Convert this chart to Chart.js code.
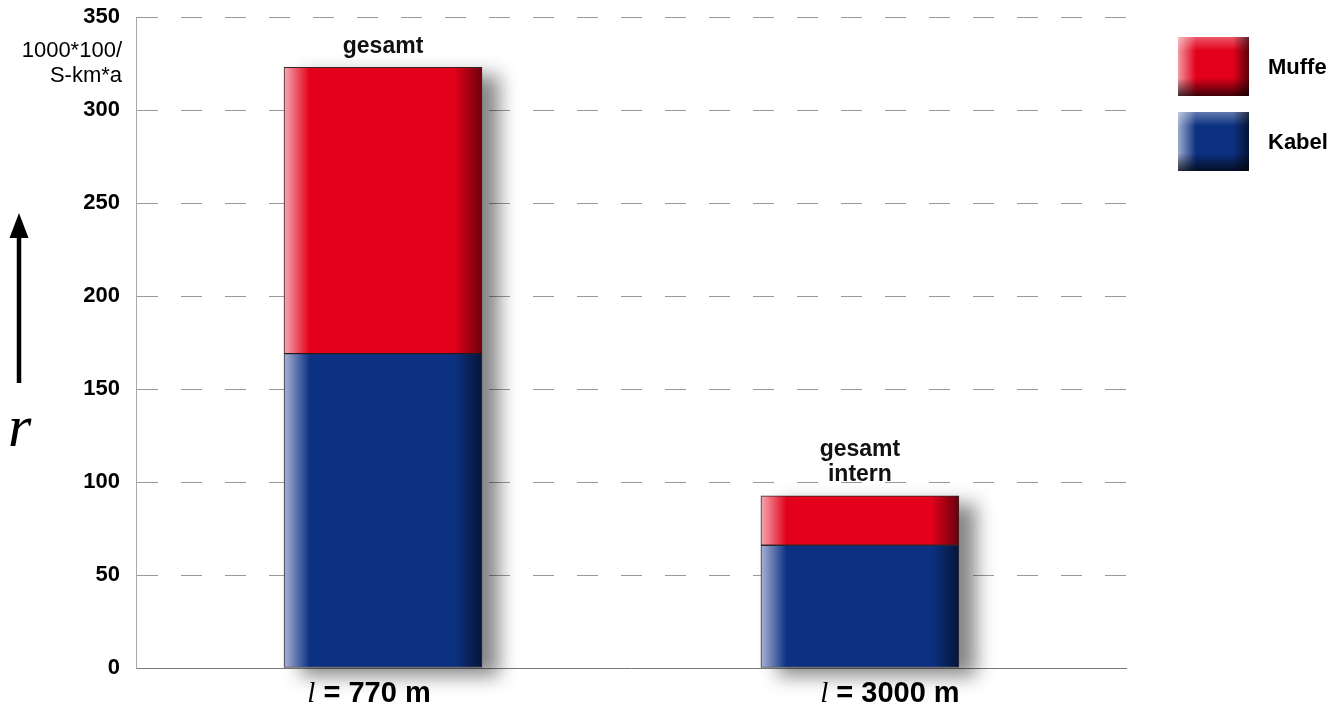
<!DOCTYPE html>
<html lang="de">
<head>
  <meta charset="UTF-8" />
  <title>Ausfallrate Kabel / Muffe</title>
  <script src="https://cdn.jsdelivr.net/npm/chart.js"></script>
  <style>
    body { margin: 0; background: #fff; }
    #wrap { width: 1337px; height: 707px; }
  </style>
</head>
<body>
  <div id="wrap"><canvas id="chart" width="1337" height="707"></canvas></div>
  <script>
    // values
    const categories = ['770 m', '3000 m'];
    const slots = [0, 1];
    const kabel = [169, 66];
    const muffe = [154, 26.5];
    const topNotes = [['gesamt'], ['gesamt', 'intern']];
    const yMax = 350;
    const yStep = 50;
    const xLabelShift = [-14, 30];

    const SANS = '"Liberation Sans", Arial, sans-serif';
    const SERIF = '"Liberation Serif", "Times New Roman", serif';

    const palette = {
      Kabel: { light: '#a9b4d4', base: '#0c3182', dark: '#041538' },
      Muffe: { light: '#f6a9b1', base: '#e2001a', dark: '#6a000c' }
    };

    function barFill(c, name) {
      const p = palette[name];
      const chart = c.chart;
      if (!chart.chartArea || !chart.scales.x || !c.raw) return p.base;
      const cx = chart.scales.x.getPixelForValue(c.raw.x);
      const g = chart.ctx.createLinearGradient(cx - 99, 0, cx + 99, 0);
      g.addColorStop(0, p.light);
      g.addColorStop(0.13, p.base);
      g.addColorStop(0.86, p.base);
      g.addColorStop(1, p.dark);
      return g;
    }

    // drop shadow behind every full stack
    const stackShadow = {
      id: 'stackShadow',
      beforeDatasetsDraw(chart) {
        const ctx = chart.ctx;
        const bot = chart.getDatasetMeta(0).data;
        const top = chart.getDatasetMeta(1).data;
        top.forEach((t, i) => {
          ctx.save();
          ctx.shadowColor = 'rgba(0,0,0,0.48)';
          ctx.shadowBlur = 18;
          ctx.shadowOffsetX = 17;
          ctx.shadowOffsetY = 8;
          ctx.fillStyle = '#fff';
          ctx.fillRect(t.x - t.width / 2, t.y, t.width, bot[i].base - t.y);
          ctx.restore();
        });
      }
    };

    // "gesamt" notes above the stacks
    const notes = {
      id: 'notes',
      afterDatasetsDraw(chart) {
        const ctx = chart.ctx;
        const top = chart.getDatasetMeta(1).data;
        ctx.save();
        ctx.font = 'bold 23px ' + SANS;
        ctx.fillStyle = '#111';
        ctx.textAlign = 'center';
        ctx.textBaseline = 'middle';
        top.forEach((t, i) => {
          const lines = topNotes[i];
          lines.forEach((s, k) => {
            ctx.fillText(s, t.x, t.y - 21 - (lines.length - 1 - k) * 25);
          });
        });
        ctx.restore();
      }
    };

    function bevelBox(ctx, x, y, w, h, p) {
      ctx.fillStyle = p.base;
      ctx.fillRect(x, y, w, h);
      let g = ctx.createLinearGradient(x, 0, x + 18, 0);
      g.addColorStop(0, 'rgba(255,255,255,0.6)');
      g.addColorStop(1, 'rgba(255,255,255,0)');
      ctx.fillStyle = g; ctx.fillRect(x, y, 18, h);
      g = ctx.createLinearGradient(0, y, 0, y + 14);
      g.addColorStop(0, 'rgba(255,255,255,0.35)');
      g.addColorStop(1, 'rgba(255,255,255,0)');
      ctx.fillStyle = g; ctx.fillRect(x, y, w, 14);
      g = ctx.createLinearGradient(x + w - 16, 0, x + w, 0);
      g.addColorStop(0, 'rgba(0,0,0,0)');
      g.addColorStop(1, 'rgba(0,0,0,0.6)');
      ctx.fillStyle = g; ctx.fillRect(x + w - 16, y, 16, h);
      g = ctx.createLinearGradient(0, y + h - 18, 0, y + h);
      g.addColorStop(0, 'rgba(0,0,0,0)');
      g.addColorStop(1, 'rgba(0,0,0,0.72)');
      ctx.fillStyle = g; ctx.fillRect(x, y + h - 18, w, 18);
    }

    // axis captions, arrow, x labels and legend
    const extras = {
      id: 'extras',
      afterDraw(chart) {
        const ctx = chart.ctx;
        const xs = chart.scales.x;
        const area = chart.chartArea;
        ctx.save();
        ctx.fillStyle = '#000';

        // y unit
        ctx.font = '22px ' + SANS;
        ctx.textAlign = 'right';
        ctx.textBaseline = 'middle';
        ctx.fillText('1000*100/', 122, 51);
        ctx.fillText('S-km*a', 122, 76);

        // arrow and r
        ctx.strokeStyle = '#000';
        ctx.lineWidth = 4.5;
        ctx.beginPath();
        ctx.moveTo(19, 383);
        ctx.lineTo(19, 234);
        ctx.stroke();
        ctx.beginPath();
        ctx.moveTo(19, 213);
        ctx.lineTo(28.5, 238);
        ctx.lineTo(9.5, 238);
        ctx.closePath();
        ctx.fill();
        ctx.font = 'italic 60px ' + SERIF;
        ctx.textAlign = 'left';
        ctx.textBaseline = 'alphabetic';
        ctx.fillText('r', 8, 446);

        // x labels: italic l + bold text
        categories.forEach((c, i) => {
          const cx = xs.getPixelForValue(slots[i]) + xLabelShift[i];
          const rest = ' = ' + c;
          ctx.font = 'italic 29px ' + SERIF;
          const w1 = ctx.measureText('l').width;
          ctx.font = 'bold 29px ' + SANS;
          const w2 = ctx.measureText(rest).width;
          const x = cx - (w1 + w2) / 2;
          ctx.font = 'italic 29px ' + SERIF;
          ctx.fillText('l', x, area.bottom + 34);
          ctx.font = 'bold 29px ' + SANS;
          ctx.fillText(rest, x + w1, area.bottom + 34);
        });

        // legend
        const items = [['Muffe', 37], ['Kabel', 112]];
        items.forEach(([name, y]) => {
          bevelBox(ctx, 1178, y, 71, 59, palette[name]);
          ctx.fillStyle = '#000';
          ctx.font = 'bold 22px ' + SANS;
          ctx.textBaseline = 'middle';
          ctx.textAlign = 'left';
          ctx.fillText(name, 1268, y + 31);
        });
        ctx.restore();
      }
    };

    new Chart(document.getElementById('chart'), {
      type: 'bar',
      data: {
        datasets: [
          {
            label: 'Kabel',
            data: slots.map((s, i) => ({ x: s, y: kabel[i] })),
            backgroundColor: c => barFill(c, 'Kabel'),
            borderColor: 'rgba(10,10,20,0.85)',
            borderWidth: 1,
            borderSkipped: false,
            barThickness: 198
          },
          {
            label: 'Muffe',
            data: slots.map((s, i) => ({ x: s, y: muffe[i] })),
            backgroundColor: c => barFill(c, 'Muffe'),
            borderColor: 'rgba(20,0,0,0.85)',
            borderWidth: 1,
            borderSkipped: false,
            barThickness: 198
          }
        ]
      },
      options: {
        responsive: false,
        animation: false,
        devicePixelRatio: 1,
        layout: { padding: { top: 17, right: 211, left: 0, bottom: 0 } },
        plugins: { legend: { display: false }, tooltip: { enabled: false } },
        scales: {
          x: {
            type: 'linear',
            stacked: true,
            offset: false,
            min: -0.518,
            max: 1.558,
            grid: { display: false },
            border: { display: true, color: '#7a7a7a', width: 1 },
            ticks: { display: false },
            afterFit: s => { s.height = 39; s.paddingLeft = 0; s.paddingRight = 0; }
          },
          y: {
            stacked: true,
            min: 0,
            max: yMax,
            ticks: {
              stepSize: yStep,
              padding: 16,
              color: '#000',
              font: { family: SANS, size: 22, weight: 'bold' }
            },
            grid: {
              drawTicks: false,
              color: c => (c.tick && c.tick.value === 0 ? 'rgba(0,0,0,0)' : '#9a9a9a'),
              lineWidth: 1
            },
            border: { display: true, color: '#a8a8a8', width: 1, dash: [21, 23] },
            afterFit: s => { s.width = 136; s.paddingTop = 0; s.paddingBottom = 0; }
          }
        }
      },
      plugins: [stackShadow, notes, extras]
    });
  </script>
</body>
</html>
